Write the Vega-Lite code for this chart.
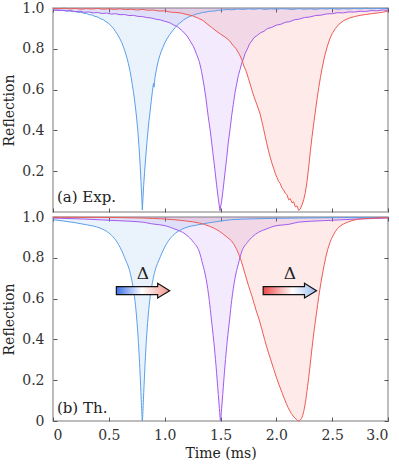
{
"$schema":"https://vega.github.io/schema/vega-lite/v6.json",
"background":"white",
"padding":{"left":1,"top":0,"right":4,"bottom":0},
"spacing":5,
"bounds":"flush",
"config":{
 "font":"DejaVu Serif",
 "view":{"stroke":"#a8a8a8","strokeWidth":1.5},
 "text":{"font":"DejaVu Serif"},
 "axis":{"labelFont":"DejaVu Serif","labelFontSize":14,"labelColor":"#333333","titleFont":"DejaVu Serif","titleFontSize":14,"titleFontWeight":"normal","titleColor":"#222222","domain":false,"grid":false,"tickColor":"#555555","tickSize":4,"tickWidth":1,"offset":-4,"labelPadding":9}
},
"datasets":{
"exp":[
{"s":"b","t":0.000,"r":0.993},{"s":"b","t":0.025,"r":0.989},{"s":"b","t":0.050,"r":0.991},{"s":"b","t":0.075,"r":0.987},{"s":"b","t":0.100,"r":0.989},{"s":"b","t":0.125,"r":0.985},{"s":"b","t":0.150,"r":0.986},{"s":"b","t":0.175,"r":0.982},{"s":"b","t":0.200,"r":0.983},{"s":"b","t":0.225,"r":0.978},{"s":"b","t":0.250,"r":0.979},{"s":"b","t":0.275,"r":0.974},{"s":"b","t":0.300,"r":0.973},{"s":"b","t":0.325,"r":0.967},{"s":"b","t":0.350,"r":0.966},{"s":"b","t":0.375,"r":0.959},{"s":"b","t":0.400,"r":0.956},{"s":"b","t":0.425,"r":0.948},{"s":"b","t":0.450,"r":0.943},{"s":"b","t":0.475,"r":0.932},{"s":"b","t":0.500,"r":0.924},{"s":"b","t":0.520,"r":0.912},{"s":"b","t":0.540,"r":0.901},{"s":"b","t":0.560,"r":0.885},{"s":"b","t":0.580,"r":0.868},{"s":"b","t":0.600,"r":0.848},{"s":"b","t":0.615,"r":0.832},{"s":"b","t":0.630,"r":0.810},{"s":"b","t":0.645,"r":0.787},{"s":"b","t":0.660,"r":0.760},{"s":"b","t":0.675,"r":0.728},{"s":"b","t":0.690,"r":0.690},{"s":"b","t":0.700,"r":0.660},{"s":"b","t":0.710,"r":0.625},{"s":"b","t":0.720,"r":0.590},{"s":"b","t":0.730,"r":0.550},{"s":"b","t":0.740,"r":0.505},{"s":"b","t":0.750,"r":0.455},{"s":"b","t":0.760,"r":0.395},{"s":"b","t":0.770,"r":0.320},{"s":"b","t":0.780,"r":0.235},{"s":"b","t":0.788,"r":0.150},{"s":"b","t":0.795,"r":0.070},{"s":"b","t":0.800,"r":0.010},{"s":"b","t":0.805,"r":0.060},{"s":"b","t":0.812,"r":0.130},{"s":"b","t":0.820,"r":0.195},{"s":"b","t":0.830,"r":0.265},{"s":"b","t":0.840,"r":0.335},{"s":"b","t":0.850,"r":0.395},{"s":"b","t":0.860,"r":0.450},{"s":"b","t":0.870,"r":0.495},{"s":"b","t":0.880,"r":0.545},{"s":"b","t":0.890,"r":0.590},{"s":"b","t":0.900,"r":0.630},{"s":"b","t":0.905,"r":0.612},{"s":"b","t":0.912,"r":0.655},{"s":"b","t":0.925,"r":0.695},{"s":"b","t":0.940,"r":0.735},{"s":"b","t":0.955,"r":0.765},{"s":"b","t":0.970,"r":0.788},{"s":"b","t":0.985,"r":0.808},{"s":"b","t":1.000,"r":0.828},{"s":"b","t":1.020,"r":0.848},{"s":"b","t":1.045,"r":0.870},{"s":"b","t":1.070,"r":0.888},{"s":"b","t":1.095,"r":0.905},{"s":"b","t":1.120,"r":0.920},{"s":"b","t":1.145,"r":0.930},{"s":"b","t":1.170,"r":0.942},{"s":"b","t":1.195,"r":0.950},{"s":"b","t":1.220,"r":0.958},{"s":"b","t":1.250,"r":0.963},{"s":"b","t":1.280,"r":0.970},{"s":"b","t":1.310,"r":0.973},{"s":"b","t":1.340,"r":0.978},{"s":"b","t":1.370,"r":0.980},{"s":"b","t":1.400,"r":0.984},{"s":"b","t":1.440,"r":0.985},{"s":"b","t":1.480,"r":0.989},{"s":"b","t":1.520,"r":0.990},{"s":"b","t":1.560,"r":0.993},{"s":"b","t":1.600,"r":0.991},{"s":"b","t":1.650,"r":0.995},{"s":"b","t":1.700,"r":0.993},{"s":"b","t":1.750,"r":0.996},{"s":"b","t":1.800,"r":0.994},{"s":"b","t":1.850,"r":0.997},{"s":"b","t":1.900,"r":0.993},{"s":"b","t":1.950,"r":0.996},{"s":"b","t":2.000,"r":0.994},{"s":"b","t":2.050,"r":0.997},{"s":"b","t":2.100,"r":0.995},{"s":"b","t":2.150,"r":0.993},{"s":"b","t":2.200,"r":0.997},{"s":"b","t":2.250,"r":0.994},{"s":"b","t":2.300,"r":0.996},{"s":"b","t":2.350,"r":0.993},{"s":"b","t":2.400,"r":0.997},{"s":"b","t":2.450,"r":0.995},{"s":"b","t":2.500,"r":0.998},{"s":"b","t":2.550,"r":0.994},{"s":"b","t":2.600,"r":0.997},{"s":"b","t":2.650,"r":0.995},{"s":"b","t":2.700,"r":0.998},{"s":"b","t":2.750,"r":0.996},{"s":"b","t":2.800,"r":0.999},{"s":"b","t":2.850,"r":0.996},{"s":"b","t":2.900,"r":0.998},{"s":"b","t":2.950,"r":0.997},{"s":"b","t":3.000,"r":0.999},
{"s":"p","t":0.00,"r":0.991},{"s":"p","t":0.04,"r":0.987},{"s":"p","t":0.08,"r":0.989},{"s":"p","t":0.12,"r":0.985},{"s":"p","t":0.16,"r":0.987},{"s":"p","t":0.20,"r":0.982},{"s":"p","t":0.24,"r":0.984},{"s":"p","t":0.28,"r":0.979},{"s":"p","t":0.32,"r":0.981},{"s":"p","t":0.36,"r":0.976},{"s":"p","t":0.40,"r":0.978},{"s":"p","t":0.44,"r":0.973},{"s":"p","t":0.48,"r":0.975},{"s":"p","t":0.52,"r":0.970},{"s":"p","t":0.56,"r":0.972},{"s":"p","t":0.60,"r":0.967},{"s":"p","t":0.64,"r":0.968},{"s":"p","t":0.68,"r":0.963},{"s":"p","t":0.72,"r":0.964},{"s":"p","t":0.76,"r":0.959},{"s":"p","t":0.80,"r":0.958},{"s":"p","t":0.84,"r":0.953},{"s":"p","t":0.88,"r":0.951},{"s":"p","t":0.92,"r":0.945},{"s":"p","t":0.96,"r":0.942},{"s":"p","t":1.00,"r":0.935},{"s":"p","t":1.04,"r":0.929},{"s":"p","t":1.08,"r":0.917},{"s":"p","t":1.12,"r":0.906},{"s":"p","t":1.16,"r":0.887},{"s":"p","t":1.20,"r":0.863},{"s":"p","t":1.23,"r":0.837},{"s":"p","t":1.26,"r":0.809},{"s":"p","t":1.285,"r":0.774},{"s":"p","t":1.31,"r":0.738},{"s":"p","t":1.33,"r":0.690},{"s":"p","t":1.35,"r":0.628},{"s":"p","t":1.37,"r":0.556},{"s":"p","t":1.39,"r":0.468},{"s":"p","t":1.41,"r":0.392},{"s":"p","t":1.43,"r":0.298},{"s":"p","t":1.45,"r":0.207},{"s":"p","t":1.465,"r":0.133},{"s":"p","t":1.48,"r":0.066},{"s":"p","t":1.495,"r":0.006},{"s":"p","t":1.51,"r":0.052},{"s":"p","t":1.525,"r":0.118},{"s":"p","t":1.54,"r":0.192},{"s":"p","t":1.555,"r":0.263},{"s":"p","t":1.57,"r":0.342},{"s":"p","t":1.585,"r":0.403},{"s":"p","t":1.60,"r":0.472},{"s":"p","t":1.615,"r":0.528},{"s":"p","t":1.63,"r":0.586},{"s":"p","t":1.645,"r":0.628},{"s":"p","t":1.66,"r":0.670},{"s":"p","t":1.675,"r":0.698},{"s":"p","t":1.69,"r":0.730},{"s":"p","t":1.705,"r":0.750},{"s":"p","t":1.72,"r":0.777},{"s":"p","t":1.74,"r":0.798},{"s":"p","t":1.76,"r":0.824},{"s":"p","t":1.78,"r":0.838},{"s":"p","t":1.80,"r":0.855},{"s":"p","t":1.83,"r":0.866},{"s":"p","t":1.86,"r":0.879},{"s":"p","t":1.89,"r":0.886},{"s":"p","t":1.92,"r":0.899},{"s":"p","t":1.96,"r":0.905},{"s":"p","t":2.00,"r":0.916},{"s":"p","t":2.04,"r":0.920},{"s":"p","t":2.08,"r":0.930},{"s":"p","t":2.12,"r":0.933},{"s":"p","t":2.16,"r":0.942},{"s":"p","t":2.20,"r":0.945},{"s":"p","t":2.25,"r":0.953},{"s":"p","t":2.30,"r":0.956},{"s":"p","t":2.35,"r":0.963},{"s":"p","t":2.40,"r":0.965},{"s":"p","t":2.45,"r":0.971},{"s":"p","t":2.50,"r":0.972},{"s":"p","t":2.55,"r":0.977},{"s":"p","t":2.60,"r":0.976},{"s":"p","t":2.65,"r":0.981},{"s":"p","t":2.70,"r":0.980},{"s":"p","t":2.75,"r":0.984},{"s":"p","t":2.80,"r":0.983},{"s":"p","t":2.85,"r":0.987},{"s":"p","t":2.90,"r":0.986},{"s":"p","t":2.95,"r":0.990},{"s":"p","t":3.00,"r":0.989},
{"s":"r","t":0.000,"r":0.998},{"s":"r","t":0.050,"r":0.996},{"s":"r","t":0.100,"r":0.999},{"s":"r","t":0.150,"r":0.995},{"s":"r","t":0.200,"r":0.998},{"s":"r","t":0.250,"r":0.994},{"s":"r","t":0.300,"r":0.997},{"s":"r","t":0.350,"r":0.995},{"s":"r","t":0.400,"r":0.998},{"s":"r","t":0.450,"r":0.994},{"s":"r","t":0.500,"r":0.996},{"s":"r","t":0.550,"r":0.993},{"s":"r","t":0.600,"r":0.996},{"s":"r","t":0.650,"r":0.992},{"s":"r","t":0.700,"r":0.994},{"s":"r","t":0.750,"r":0.990},{"s":"r","t":0.800,"r":0.993},{"s":"r","t":0.850,"r":0.989},{"s":"r","t":0.900,"r":0.990},{"s":"r","t":0.950,"r":0.985},{"s":"r","t":1.000,"r":0.986},{"s":"r","t":1.050,"r":0.980},{"s":"r","t":1.100,"r":0.978},{"s":"r","t":1.150,"r":0.975},{"s":"r","t":1.200,"r":0.968},{"s":"r","t":1.250,"r":0.962},{"s":"r","t":1.300,"r":0.950},{"s":"r","t":1.340,"r":0.940},{"s":"r","t":1.380,"r":0.922},{"s":"r","t":1.420,"r":0.905},{"s":"r","t":1.460,"r":0.888},{"s":"r","t":1.500,"r":0.872},{"s":"r","t":1.540,"r":0.858},{"s":"r","t":1.580,"r":0.840},{"s":"r","t":1.610,"r":0.818},{"s":"r","t":1.640,"r":0.800},{"s":"r","t":1.670,"r":0.772},{"s":"r","t":1.690,"r":0.748},{"s":"r","t":1.710,"r":0.715},{"s":"r","t":1.730,"r":0.690},{"s":"r","t":1.750,"r":0.655},{"s":"r","t":1.765,"r":0.628},{"s":"r","t":1.780,"r":0.600},{"s":"r","t":1.800,"r":0.565},{"s":"r","t":1.820,"r":0.535},{"s":"r","t":1.840,"r":0.505},{"s":"r","t":1.855,"r":0.480},{"s":"r","t":1.870,"r":0.445},{"s":"r","t":1.885,"r":0.410},{"s":"r","t":1.900,"r":0.372},{"s":"r","t":1.915,"r":0.335},{"s":"r","t":1.930,"r":0.300},{"s":"r","t":1.945,"r":0.268},{"s":"r","t":1.960,"r":0.240},{"s":"r","t":1.975,"r":0.215},{"s":"r","t":1.990,"r":0.190},{"s":"r","t":2.005,"r":0.170},{"s":"r","t":2.020,"r":0.150},{"s":"r","t":2.035,"r":0.140},{"s":"r","t":2.050,"r":0.118},{"s":"r","t":2.065,"r":0.108},{"s":"r","t":2.080,"r":0.092},{"s":"r","t":2.095,"r":0.085},{"s":"r","t":2.110,"r":0.060},{"s":"r","t":2.125,"r":0.065},{"s":"r","t":2.140,"r":0.045},{"s":"r","t":2.155,"r":0.050},{"s":"r","t":2.170,"r":0.025},{"s":"r","t":2.185,"r":0.030},{"s":"r","t":2.200,"r":0.008},{"s":"r","t":2.215,"r":0.015},{"s":"r","t":2.230,"r":0.035},{"s":"r","t":2.245,"r":0.060},{"s":"r","t":2.260,"r":0.095},{"s":"r","t":2.275,"r":0.150},{"s":"r","t":2.290,"r":0.220},{"s":"r","t":2.305,"r":0.300},{"s":"r","t":2.320,"r":0.370},{"s":"r","t":2.335,"r":0.435},{"s":"r","t":2.350,"r":0.495},{"s":"r","t":2.365,"r":0.555},{"s":"r","t":2.380,"r":0.610},{"s":"r","t":2.395,"r":0.660},{"s":"r","t":2.410,"r":0.705},{"s":"r","t":2.425,"r":0.745},{"s":"r","t":2.440,"r":0.780},{"s":"r","t":2.460,"r":0.818},{"s":"r","t":2.480,"r":0.850},{"s":"r","t":2.500,"r":0.875},{"s":"r","t":2.530,"r":0.900},{"s":"r","t":2.560,"r":0.920},{"s":"r","t":2.600,"r":0.937},{"s":"r","t":2.650,"r":0.950},{"s":"r","t":2.700,"r":0.958},{"s":"r","t":2.750,"r":0.964},{"s":"r","t":2.800,"r":0.968},{"s":"r","t":2.850,"r":0.972},{"s":"r","t":2.900,"r":0.975},{"s":"r","t":2.950,"r":0.979},{"s":"r","t":3.000,"r":0.985}
],
"th":[
{"s":"b","t":0.00,"r":0.987},{"s":"b","t":0.10,"r":0.980},{"s":"b","t":0.20,"r":0.972},{"s":"b","t":0.30,"r":0.962},{"s":"b","t":0.42,"r":0.946},{"s":"b","t":0.50,"r":0.922},{"s":"b","t":0.55,"r":0.895},{"s":"b","t":0.60,"r":0.852},{"s":"b","t":0.65,"r":0.790},{"s":"b","t":0.68,"r":0.748},{"s":"b","t":0.70,"r":0.705},{"s":"b","t":0.72,"r":0.645},{"s":"b","t":0.735,"r":0.586},{"s":"b","t":0.75,"r":0.500},{"s":"b","t":0.76,"r":0.427},{"s":"b","t":0.77,"r":0.338},{"s":"b","t":0.78,"r":0.230},{"s":"b","t":0.79,"r":0.107},{"s":"b","t":0.795,"r":0.046},{"s":"b","t":0.80,"r":0.000},{"s":"b","t":0.805,"r":0.046},{"s":"b","t":0.81,"r":0.107},{"s":"b","t":0.82,"r":0.230},{"s":"b","t":0.83,"r":0.338},{"s":"b","t":0.84,"r":0.427},{"s":"b","t":0.85,"r":0.500},{"s":"b","t":0.865,"r":0.586},{"s":"b","t":0.88,"r":0.645},{"s":"b","t":0.90,"r":0.705},{"s":"b","t":0.92,"r":0.748},{"s":"b","t":0.95,"r":0.790},{"s":"b","t":1.00,"r":0.852},{"s":"b","t":1.05,"r":0.895},{"s":"b","t":1.10,"r":0.922},{"s":"b","t":1.18,"r":0.946},{"s":"b","t":1.30,"r":0.962},{"s":"b","t":1.40,"r":0.972},{"s":"b","t":1.50,"r":0.980},{"s":"b","t":1.60,"r":0.987},{"s":"b","t":1.80,"r":0.991},{"s":"b","t":2.20,"r":0.995},{"s":"b","t":2.60,"r":0.997},{"s":"b","t":3.00,"r":0.998},
{"s":"p","t":0.00,"r":0.995},{"s":"p","t":0.28,"r":0.990},{"s":"p","t":0.58,"r":0.982},{"s":"p","t":0.80,"r":0.975},{"s":"p","t":0.88,"r":0.967},{"s":"p","t":1.02,"r":0.955},{"s":"p","t":1.09,"r":0.941},{"s":"p","t":1.16,"r":0.925},{"s":"p","t":1.21,"r":0.905},{"s":"p","t":1.26,"r":0.875},{"s":"p","t":1.31,"r":0.830},{"s":"p","t":1.34,"r":0.770},{"s":"p","t":1.37,"r":0.700},{"s":"p","t":1.385,"r":0.650},{"s":"p","t":1.40,"r":0.590},{"s":"p","t":1.418,"r":0.500},{"s":"p","t":1.44,"r":0.390},{"s":"p","t":1.46,"r":0.270},{"s":"p","t":1.48,"r":0.130},{"s":"p","t":1.49,"r":0.060},{"s":"p","t":1.495,"r":0.025},{"s":"p","t":1.50,"r":0.000},{"s":"p","t":1.505,"r":0.025},{"s":"p","t":1.51,"r":0.060},{"s":"p","t":1.52,"r":0.130},{"s":"p","t":1.54,"r":0.270},{"s":"p","t":1.56,"r":0.390},{"s":"p","t":1.582,"r":0.500},{"s":"p","t":1.60,"r":0.590},{"s":"p","t":1.615,"r":0.650},{"s":"p","t":1.63,"r":0.700},{"s":"p","t":1.66,"r":0.770},{"s":"p","t":1.69,"r":0.830},{"s":"p","t":1.74,"r":0.875},{"s":"p","t":1.79,"r":0.905},{"s":"p","t":1.84,"r":0.925},{"s":"p","t":1.91,"r":0.941},{"s":"p","t":1.98,"r":0.955},{"s":"p","t":2.12,"r":0.965},{"s":"p","t":2.20,"r":0.975},{"s":"p","t":2.42,"r":0.982},{"s":"p","t":2.72,"r":0.990},{"s":"p","t":3.00,"r":0.995},
{"s":"r","t":0.00,"r":0.999},{"s":"r","t":0.40,"r":0.998},{"s":"r","t":0.80,"r":0.995},{"s":"r","t":1.00,"r":0.990},{"s":"r","t":1.20,"r":0.980},{"s":"r","t":1.314,"r":0.970},{"s":"r","t":1.40,"r":0.955},{"s":"r","t":1.49,"r":0.930},{"s":"r","t":1.55,"r":0.905},{"s":"r","t":1.613,"r":0.872},{"s":"r","t":1.65,"r":0.835},{"s":"r","t":1.688,"r":0.780},{"s":"r","t":1.72,"r":0.720},{"s":"r","t":1.75,"r":0.665},{"s":"r","t":1.78,"r":0.615},{"s":"r","t":1.82,"r":0.540},{"s":"r","t":1.85,"r":0.490},{"s":"r","t":1.88,"r":0.430},{"s":"r","t":1.91,"r":0.370},{"s":"r","t":1.95,"r":0.300},{"s":"r","t":2.00,"r":0.215},{"s":"r","t":2.05,"r":0.140},{"s":"r","t":2.09,"r":0.085},{"s":"r","t":2.12,"r":0.050},{"s":"r","t":2.15,"r":0.025},{"s":"r","t":2.18,"r":0.008},{"s":"r","t":2.20,"r":0.000},{"s":"r","t":2.22,"r":0.008},{"s":"r","t":2.24,"r":0.035},{"s":"r","t":2.26,"r":0.090},{"s":"r","t":2.28,"r":0.170},{"s":"r","t":2.30,"r":0.260},{"s":"r","t":2.32,"r":0.360},{"s":"r","t":2.34,"r":0.450},{"s":"r","t":2.36,"r":0.530},{"s":"r","t":2.38,"r":0.610},{"s":"r","t":2.40,"r":0.680},{"s":"r","t":2.42,"r":0.740},{"s":"r","t":2.44,"r":0.795},{"s":"r","t":2.46,"r":0.840},{"s":"r","t":2.48,"r":0.875},{"s":"r","t":2.50,"r":0.900},{"s":"r","t":2.53,"r":0.930},{"s":"r","t":2.56,"r":0.950},{"s":"r","t":2.60,"r":0.965},{"s":"r","t":2.65,"r":0.977},{"s":"r","t":2.72,"r":0.988},{"s":"r","t":2.80,"r":0.992},{"s":"r","t":3.00,"r":0.997}
]
},
"vconcat":[
{
 "width":335,"height":204,
 "resolve":{"axis":{"x":"independent","y":"independent"}},
 "layer":[
  {"data":{"name":"exp"},
   "mark":{"type":"area","fillOpacity":0.13,"interpolate":"linear"},
   "encoding":{
    "x":{"field":"t","type":"quantitative","scale":{"domain":[0,3],"nice":false,"zero":false},"axis":{"orient":"bottom","labels":false,"title":null,"values":[0,0.5,1,1.5,2,2.5,3]}},
    "y":{"field":"r","type":"quantitative","scale":{"domain":[0,1],"nice":false},"axis":{"orient":"left","title":"Reflection","titlePadding":5,"values":[0.2,0.4,0.6,0.8,1],"labelExpr":"datum.value == 0 ? '0' : format(datum.value, '.1f')"}},
    "y2":{"datum":1},
    "color":{"field":"s","type":"nominal","scale":{"domain":["b","p","r"],"range":["#5a9fea","#a25cec","#ee5a55"]},"legend":null}
   }},
  {"data":{"name":"exp"},
   "mark":{"type":"line","strokeWidth":1,"interpolate":"linear"},
   "encoding":{
    "x":{"field":"t","type":"quantitative","axis":{"orient":"top","labels":false,"title":null,"values":[0,0.5,1,1.5,2,2.5,3]}},
    "y":{"field":"r","type":"quantitative","axis":{"orient":"right","labels":false,"title":null,"values":[0.2,0.4,0.6,0.8,1]}},
    "color":{"field":"s","type":"nominal","legend":null}
   }},
  {"data":{"values":[{"t":0.035,"r":0.05,"txt":"(a) Exp."}]},
   "mark":{"type":"text","align":"left","baseline":"alphabetic","fontSize":15,"color":"#222222"},
   "encoding":{"x":{"field":"t","type":"quantitative","axis":null},"y":{"field":"r","type":"quantitative","axis":null},"text":{"field":"txt"}}}
 ]
},
{
 "width":335,"height":204,
 "resolve":{"axis":{"x":"independent","y":"independent"}},
 "layer":[
  {"data":{"name":"th"},
   "mark":{"type":"area","fillOpacity":0.13,"interpolate":"monotone"},
   "encoding":{
    "x":{"field":"t","type":"quantitative","scale":{"domain":[0,3],"nice":false,"zero":false},"axis":{"orient":"bottom","title":"Time (ms)","titlePadding":4,"labelPadding":7,"values":[0,0.5,1,1.5,2,2.5,3],"labelExpr":"datum.value == 0 ? '0' : format(datum.value, '.1f')"}},
    "y":{"field":"r","type":"quantitative","scale":{"domain":[0,1],"nice":false},"axis":{"orient":"left","title":"Reflection","titlePadding":5,"values":[0,0.2,0.4,0.6,0.8,1],"labelExpr":"datum.value == 0 ? '0' : format(datum.value, '.1f')"}},
    "y2":{"datum":1},
    "color":{"field":"s","type":"nominal","scale":{"domain":["b","p","r"],"range":["#5a9fea","#a25cec","#ee5a55"]},"legend":null}
   }},
  {"data":{"name":"th"},
   "mark":{"type":"line","strokeWidth":1,"interpolate":"monotone"},
   "encoding":{
    "x":{"field":"t","type":"quantitative","axis":{"orient":"top","labels":false,"title":null,"values":[0,0.5,1,1.5,2,2.5,3]}},
    "y":{"field":"r","type":"quantitative","axis":{"orient":"right","labels":false,"title":null,"values":[0,0.2,0.4,0.6,0.8,1]}},
    "color":{"field":"s","type":"nominal","legend":null}
   }},
  {"data":{"values":[{"t":0.035,"r":0.04,"txt":"(b) Th."}]},
   "mark":{"type":"text","align":"left","baseline":"alphabetic","fontSize":15,"color":"#222222"},
   "encoding":{"x":{"field":"t","type":"quantitative","axis":null},"y":{"field":"r","type":"quantitative","axis":null},"text":{"field":"txt"}}},
  {"data":{"values":[{"t":0.804,"r":0.72,"txt":"Δ"},{"t":2.121,"r":0.722,"txt":"Δ"}]},
   "mark":{"type":"text","align":"center","baseline":"middle","fontSize":17,"color":"#222222"},
   "encoding":{"x":{"field":"t","type":"quantitative","axis":null},"y":{"field":"r","type":"quantitative","axis":null},"text":{"field":"txt"}}},
  {"data":{"values":[{"t":0.806,"r":0.639}]},
   "mark":{"type":"point","shape":"M-1,-0.15L0.55,-0.15L0.55,-0.275L1,0L0.55,0.275L0.55,0.15L-1,0.15Z","filled":true,"size":2844,"opacity":1,"fillOpacity":1,"stroke":"#111111","strokeWidth":1.2,"strokeOpacity":1,
     "fill":{"gradient":"linear","x1":0,"x2":1,"y1":0,"y2":0,"stops":[{"offset":0,"color":"#3b70e8"},{"offset":0.48,"color":"#ffffff"},{"offset":1,"color":"#f4968c"}]}},
   "encoding":{"x":{"field":"t","type":"quantitative","axis":null},"y":{"field":"r","type":"quantitative","axis":null}}},
  {"data":{"values":[{"t":2.121,"r":0.639}]},
   "mark":{"type":"point","shape":"M-1,-0.15L0.55,-0.15L0.55,-0.275L1,0L0.55,0.275L0.55,0.15L-1,0.15Z","filled":true,"size":2844,"opacity":1,"fillOpacity":1,"stroke":"#111111","strokeWidth":1.2,"strokeOpacity":1,
     "fill":{"gradient":"linear","x1":0,"x2":1,"y1":0,"y2":0,"stops":[{"offset":0,"color":"#ee4848"},{"offset":0.55,"color":"#ffffff"},{"offset":1,"color":"#9dbbef"}]}},
   "encoding":{"x":{"field":"t","type":"quantitative","axis":null},"y":{"field":"r","type":"quantitative","axis":null}}}
 ]
}
]
}
